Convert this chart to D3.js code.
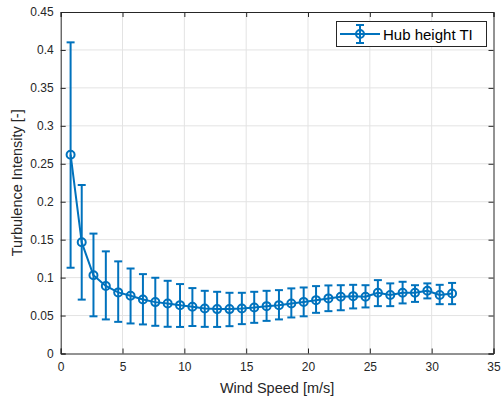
<!DOCTYPE html>
<html>
<head>
<meta charset="utf-8">
<script src="https://cdn.jsdelivr.net/npm/d3@7"></script>
<style>
html,body{margin:0;padding:0;background:#fff;}
svg{display:block;font-family:"Liberation Sans",Arial,Helvetica,sans-serif;}
</style>
</head>
<body>
<svg id="chart" width="501" height="401"></svg>
<script>
const windSpeed = [0.8,1.7,2.65,3.65,4.65,5.65,6.65,7.65,8.65,9.65,10.65,11.65,12.65,13.65,14.65,15.65,16.65,17.65,18.65,19.65,20.65,21.65,22.65,23.65,24.65,25.65,26.65,27.65,28.65,29.65,30.65,31.65];
const tiMean = [0.262,0.1465,0.103,0.089,0.0805,0.076,0.0712,0.0677,0.066,0.0637,0.0615,0.0594,0.0585,0.0585,0.0594,0.0607,0.0624,0.0637,0.066,0.068,0.0703,0.0726,0.0747,0.0756,0.0747,0.080,0.077,0.080,0.080,0.0826,0.077,0.079];
const tiUpper = [0.410,0.222,0.158,0.1346,0.1214,0.112,0.1046,0.0998,0.0958,0.0915,0.0862,0.0826,0.0813,0.080,0.080,0.0813,0.0826,0.0835,0.0858,0.087,0.0888,0.0897,0.090,0.0905,0.090,0.0967,0.0924,0.0945,0.090,0.0924,0.0905,0.093];
const tiLower = [0.113,0.071,0.049,0.0449,0.0417,0.0396,0.0383,0.0365,0.0352,0.035,0.0362,0.0351,0.035,0.036,0.0387,0.0404,0.043,0.0449,0.0475,0.049,0.0536,0.0558,0.057,0.0594,0.0607,0.0624,0.0624,0.066,0.068,0.0726,0.065,0.065];
const xTicks = [0,5,10,15,20,25,30,35];
const yTicks = [0,0.05,0.1,0.15,0.2,0.25,0.3,0.35,0.4,0.45];
const seriesName = "Hub height TI";
const xLabel = "Wind Speed [m/s]";
const yLabel = "Turbulence Intensity [-]";

const svg = d3.select("#chart");
const L = 60.7, R = 493.5, T = 12, B = 353.5;
const x = d3.scaleLinear().domain([0,35]).range([L,R]);
const y = d3.scaleLinear().domain([0,0.45]).range([B,T]);
const axisCol = "#262626", gridCol = "#e3e3e3", blue = "#0072BD";

// grid
const g = svg.append("g");
g.selectAll(".gx").data(xTicks.slice(1,-1)).enter().append("line")
  .attr("x1",d=>x(d)).attr("x2",d=>x(d)).attr("y1",T).attr("y2",B)
  .attr("stroke",gridCol).attr("stroke-width",1);
g.selectAll(".gy").data(yTicks.slice(1,-1)).enter().append("line")
  .attr("y1",d=>y(d)).attr("y2",d=>y(d)).attr("x1",L).attr("x2",R)
  .attr("stroke",gridCol).attr("stroke-width",1);

// axes
const tl = 5;
const xb = svg.append("g").attr("transform",`translate(0,${B})`)
  .call(d3.axisBottom(x).tickValues(xTicks).tickSize(-tl).tickPadding(9).tickFormat(d3.format("")));
const xt = svg.append("g").attr("transform",`translate(0,${T})`)
  .call(d3.axisTop(x).tickValues(xTicks).tickSize(-tl).tickFormat(""));
const yl = svg.append("g").attr("transform",`translate(${L},0)`)
  .call(d3.axisLeft(y).tickValues(yTicks).tickSize(-tl).tickPadding(7).tickFormat(d=>d3.format("")(+d.toFixed(2))));
const yr = svg.append("g").attr("transform",`translate(${R},0)`)
  .call(d3.axisRight(y).tickValues(yTicks).tickSize(-tl).tickFormat(""));
[xb,xt,yl,yr].forEach(a=>{
  a.select(".domain").attr("stroke",axisCol).attr("stroke-width",1);
  a.selectAll(".tick line").attr("stroke",axisCol).attr("stroke-width",1);
  a.selectAll(".tick text").attr("fill",axisCol).attr("font-size",12).attr("font-family","Liberation Sans, Arial, sans-serif");
});

// labels
svg.append("text").attr("x",(L+R)/2).attr("y",393).attr("text-anchor","middle")
  .attr("font-size",14.5).attr("fill",axisCol).text(xLabel);
svg.append("text").attr("transform",`translate(22,${(T+B)/2}) rotate(-90)`).attr("text-anchor","middle")
  .attr("font-size",14.5).attr("fill",axisCol).text(yLabel);

// data
const data = windSpeed.map((w,i)=>({x:w,m:tiMean[i],u:tiUpper[i],l:tiLower[i]}));
const dg = svg.append("g");
const cap = 4;
dg.selectAll(".eb").data(data).enter().append("line")
  .attr("x1",d=>x(d.x)).attr("x2",d=>x(d.x)).attr("y1",d=>y(d.l)).attr("y2",d=>y(d.u))
  .attr("stroke",blue).attr("stroke-width",2);
dg.selectAll(".cu").data(data).enter().append("line")
  .attr("x1",d=>x(d.x)-cap).attr("x2",d=>x(d.x)+cap).attr("y1",d=>y(d.u)).attr("y2",d=>y(d.u))
  .attr("stroke",blue).attr("stroke-width",2);
dg.selectAll(".cl").data(data).enter().append("line")
  .attr("x1",d=>x(d.x)-cap).attr("x2",d=>x(d.x)+cap).attr("y1",d=>y(d.l)).attr("y2",d=>y(d.l))
  .attr("stroke",blue).attr("stroke-width",2);
dg.append("path").datum(data)
  .attr("d",d3.line().x(d=>x(d.x)).y(d=>y(d.m)))
  .attr("fill","none").attr("stroke",blue).attr("stroke-width",2).attr("stroke-linejoin","round");
dg.selectAll(".mk").data(data).enter().append("circle")
  .attr("cx",d=>x(d.x)).attr("cy",d=>y(d.m)).attr("r",4)
  .attr("fill","none").attr("stroke",blue).attr("stroke-width",2);

// legend
const lg = svg.append("g");
lg.append("rect").attr("x",336.5).attr("y",21.5).attr("width",150).attr("height",25)
  .attr("fill","#fff").attr("stroke",axisCol).attr("stroke-width",1);
const lc = 360, ly = 34;
lg.append("line").attr("x1",340).attr("x2",380).attr("y1",ly).attr("y2",ly).attr("stroke",blue).attr("stroke-width",2);
lg.append("line").attr("x1",lc).attr("x2",lc).attr("y1",ly-9).attr("y2",ly+9).attr("stroke",blue).attr("stroke-width",2);
lg.append("line").attr("x1",lc-4).attr("x2",lc+4).attr("y1",ly-9).attr("y2",ly-9).attr("stroke",blue).attr("stroke-width",2);
lg.append("line").attr("x1",lc-4).attr("x2",lc+4).attr("y1",ly+9).attr("y2",ly+9).attr("stroke",blue).attr("stroke-width",2);
lg.append("circle").attr("cx",lc).attr("cy",ly).attr("r",4).attr("fill","none").attr("stroke",blue).attr("stroke-width",2);
lg.append("text").attr("x",383).attr("y",ly+5.5).attr("font-size",15).attr("fill","#000").text(seriesName);
</script>
</body>
</html>
